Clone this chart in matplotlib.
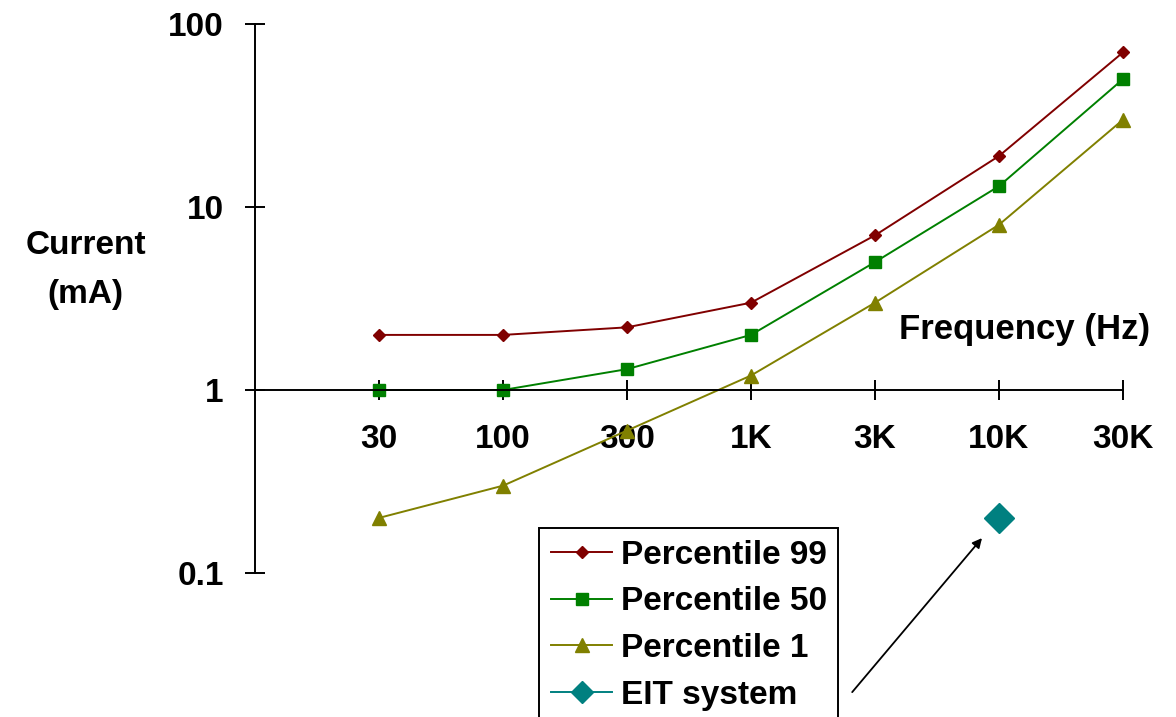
# Current vs frequency percentiles, EIT system point

import numpy as np
import matplotlib
matplotlib.use('Agg')
import matplotlib.pyplot as plt
from matplotlib.lines import Line2D
from matplotlib.ticker import NullLocator

plt.rcParams['font.family'] = ['Liberation Sans', 'DejaVu Sans']
plt.rcParams['font.weight'] = 'bold'

freqs = ['30', '100', '300', '1K', '3K', '10K', '30K']
p99 = [2.0, 2.0, 2.2, 3.0, 7.0, 19.0, 70.0]
p50 = [1.0, 1.0, 1.3, 2.0, 5.0, 13.0, 50.0]
p1 = [0.2, 0.3, 0.6, 1.2, 3.0, 8.0, 30.0]
eit_freq = '10K'
eit_val = 0.2

yticks = [0.1, 1, 10, 100]
ylabels = ['0.1', '1', '10', '100']

W, H = 1176, 717
fig = plt.figure(figsize=(W / 100, H / 100), dpi=100)
ax = fig.add_axes([255 / W, 1 - 573 / H, 868 / W, 549 / H])

x = np.arange(1, len(freqs) + 1)
l99, = ax.plot(x, p99, '-D', color='#800000', lw=1.4, ms=6, label='Percentile 99', clip_on=False)
l50, = ax.plot(x, p50, '-s', color='#008000', lw=1.4, ms=8.5, label='Percentile 50', clip_on=False)
l1, = ax.plot(x, p1, '-^', color='#808000', lw=1.4, ms=10, label='Percentile 1', clip_on=False)
xe = x[freqs.index(eit_freq)]
leit, = ax.plot([xe], [eit_val], '-D', color='#008080', lw=1.4, ms=15, label='EIT system')

ax.set_yscale('log')
ax.set_ylim(0.1, 100)
ax.set_xlim(0, len(freqs))
ax.set_yticks(yticks)
ax.set_yticklabels(ylabels)
ax.yaxis.set_minor_locator(NullLocator())
ax.set_xticks(x)
ax.set_xticklabels(freqs)

for s in ['top', 'right']:
    ax.spines[s].set_visible(False)
ax.spines['bottom'].set_position(('data', 1))
ax.spines['left'].set_linewidth(1.4)
ax.spines['bottom'].set_linewidth(1.4)

ax.tick_params(axis='both', direction='inout', length=15, width=1.4, labelsize=24)
ax.tick_params(axis='x', pad=17)
ax.tick_params(axis='y', pad=15)

ax.set_ylabel('Current\n(mA)', rotation=0, fontsize=24, fontweight='bold',
              ha='center', va='center', linespacing=1.75)
ax.yaxis.set_label_coords(-0.195, 0.552)
ax.set_xlabel('Frequency (Hz)', fontsize=25, fontweight='bold', ha='center', va='center')
ax.xaxis.set_label_coords(0.887, 0.444)

ax.annotate('', xy=(xe, eit_val), xytext=(0.688, -0.217), textcoords='axes fraction',
            arrowprops=dict(arrowstyle='-|>', color='black', lw=1.3,
                            mutation_scale=14, shrinkA=0, shrinkB=19),
            annotation_clip=False)

eit_handle = Line2D([], [], color='#008080', lw=1.4, marker='D', ms=11)
leg = fig.legend([l99, l50, l1, eit_handle],
                 ['Percentile 99', 'Percentile 50', 'Percentile 1', 'EIT system'],
                 loc='upper left', bbox_to_anchor=(539 / W, 1 - 528 / H),
                 borderaxespad=0, fontsize=24, fancybox=False, framealpha=1,
                 edgecolor='black', handlelength=1.85, handletextpad=0.25,
                 borderpad=0.35, labelspacing=0.47)
leg.get_frame().set_linewidth(1.4)

fig.savefig('out.png', dpi=100)
